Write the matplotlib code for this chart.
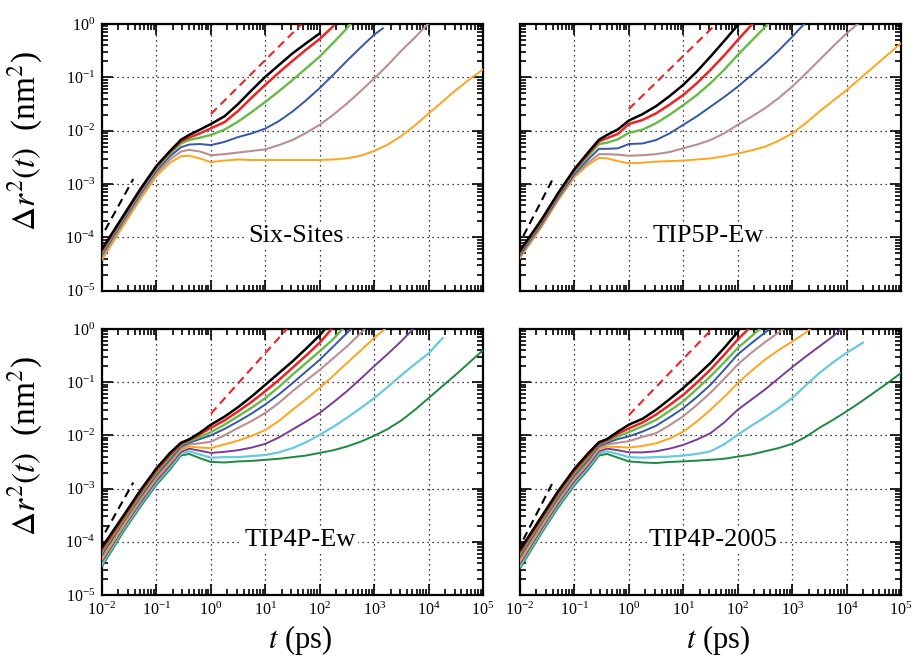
import numpy as np
import matplotlib.pyplot as plt
from matplotlib.ticker import LogLocator, NullFormatter

plt.rcParams['font.family'] = ['Liberation Serif', 'DejaVu Serif']
plt.rcParams['mathtext.fontset'] = 'stix'
plt.rcParams['axes.unicode_minus'] = False

nan = np.nan

log_t = [-2, -1.6, -1.3, -1, -0.75, -0.55, -0.4, -0.2, 0, 0.25, 0.5, 0.75, 1, 1.25, 1.5, 1.75,
         2, 2.25, 2.5, 2.75, 3, 3.25, 3.5, 3.75, 4, 4.25, 4.5, 4.75, 5]

colors = ['#000000', '#ee2222', '#66bb44', '#3355aa', '#bb8f8f', '#ffa41c',
          '#7a3d96', '#66cadb', '#1b8a3e']

# log10 of MSD (nm^2) at log_t, one row per curve (colour order above);
# a row stops where the curve stops
six_sites = [
    [-4.22, -3.58, -3.10, -2.66, -2.38, -2.17, -2.08, -1.98, -1.875, -1.73, -1.50, -1.24, -0.99, -0.77, -0.55, -0.36, -0.175],
    [-4.25, -3.60, -3.12, -2.68, -2.40, -2.20, -2.13, -2.05, -1.956, -1.84, -1.63, -1.38, -1.14, -0.91, -0.69, -0.48, -0.28],
    [-4.28, -3.63, -3.15, -2.71, -2.43, -2.24, -2.175, -2.13, -2.08, -1.98, -1.83, -1.65, -1.46, -1.26, -1.05, -0.83, -0.61, -0.35, -0.08],
    [-4.32, -3.67, -3.19, -2.75, -2.48, -2.31, -2.26, -2.25, -2.27, -2.21, -2.12, -2.05, -1.96, -1.82, -1.64, -1.43, -1.20, -0.95, -0.69, -0.44, -0.20],
    [-4.37, -3.72, -3.24, -2.80, -2.54, -2.39, -2.36, -2.39, -2.46, -2.44, -2.41, -2.38, -2.35, -2.27, -2.175, -2.04, -1.89, -1.70, -1.49, -1.26, -1.02, -0.77, -0.50, -0.25],
    [-4.42, -3.77, -3.29, -2.85, -2.60, -2.48, -2.47, -2.52, -2.59, -2.56, -2.54, -2.55, -2.55, -2.55, -2.55, -2.55, -2.55, -2.54, -2.52, -2.47, -2.38, -2.26, -2.10, -1.90, -1.68, -1.46, -1.24, -1.04, -0.85],
]
# last point of each curve (log t, log msd)
six_sites_end = [(2.0, -0.175), (2.25, -0.04), (2.56, 0.0), (3.16, -0.08), (3.99, 0.0), (5.0, -0.85)]

tip5p_ew = [
    [-4.25, -3.66, -3.17, -2.72, -2.41, -2.17, -2.08, -1.975, -1.81, -1.69, -1.54, -1.35, -1.14, -0.89, -0.61, -0.32, -0.02],
    [-4.27, -3.68, -3.19, -2.74, -2.44, -2.20, -2.14, -2.06, -1.875, -1.80, -1.675, -1.51, -1.33, -1.11, -0.86, -0.59, -0.30, -0.02],
    [-4.29, -3.70, -3.21, -2.77, -2.48, -2.25, -2.225, -2.16, -2.04, -1.98, -1.86, -1.70, -1.52, -1.33, -1.11, -0.86, -0.58, -0.32, -0.06],
    [-4.33, -3.74, -3.25, -2.81, -2.54, -2.34, -2.34, -2.33, -2.25, -2.24, -2.175, -2.05, -1.89, -1.73, -1.55, -1.37, -1.175, -0.96, -0.74, -0.50, -0.24],
    [-4.36, -3.77, -3.28, -2.84, -2.60, -2.44, -2.44, -2.45, -2.47, -2.46, -2.44, -2.40, -2.33, -2.26, -2.175, -2.05, -1.89, -1.74, -1.58, -1.39, -1.175, -0.93, -0.675, -0.42, -0.175],
    [-4.39, -3.80, -3.31, -2.87, -2.64, -2.51, -2.52, -2.57, -2.61, -2.60, -2.58, -2.57, -2.56, -2.54, -2.52, -2.48, -2.43, -2.37, -2.30, -2.19, -2.05, -1.86, -1.64, -1.44, -1.24, -1.02, -0.80, -0.58, -0.36],
]
tip5p_ew_end = [(2.02, 0.0), (2.27, 0.0), (2.56, 0.0), (3.22, 0.0), (4.2, 0.0), (5.0, -0.36)]

tip4p_ew = [
    [-4.10, -3.50, -3.04, -2.62, -2.33, -2.14, -2.075, -1.95, -1.80, -1.65, -1.47, -1.27, -1.05, -0.83, -0.61, -0.37, -0.12],
    [-4.15, -3.54, -3.08, -2.66, -2.37, -2.16, -2.09, -1.98, -1.86, -1.72, -1.55, -1.37, -1.17, -0.96, -0.73, -0.50, -0.26],
    [-4.19, -3.58, -3.12, -2.70, -2.41, -2.18, -2.11, -2.03, -1.94, -1.80, -1.64, -1.48, -1.30, -1.09, -0.86, -0.64, -0.42, -0.19],
    [-4.24, -3.61, -3.16, -2.74, -2.45, -2.21, -2.14, -2.07, -2.00, -1.88, -1.74, -1.59, -1.42, -1.23, -1.02, -0.80, -0.58, -0.33, -0.075],
    [-4.28, -3.65, -3.20, -2.78, -2.49, -2.24, -2.17, -2.15, -2.12, -2.00, -1.86, -1.73, -1.58, -1.39, -1.17, -0.97, -0.77, -0.55, -0.33, -0.08],
    [-4.33, -3.69, -3.23, -2.81, -2.52, -2.27, -2.21, -2.23, -2.24, -2.17, -2.10, -2.01, -1.90, -1.73, -1.52, -1.32, -1.11, -0.88, -0.64, -0.41, -0.17],
    [-4.37, -3.72, -3.27, -2.85, -2.56, -2.31, -2.25, -2.29, -2.33, -2.31, -2.28, -2.23, -2.16, -2.04, -1.89, -1.74, -1.58, -1.38, -1.17, -0.94, -0.70, -0.47, -0.23],
    [-4.42, -3.76, -3.31, -2.89, -2.60, -2.35, -2.30, -2.36, -2.42, -2.41, -2.41, -2.39, -2.37, -2.32, -2.24, -2.13, -1.99, -1.84, -1.67, -1.49, -1.30, -1.09, -0.87, -0.66, -0.46],
    [-4.46, -3.80, -3.35, -2.93, -2.64, -2.38, -2.35, -2.43, -2.50, -2.51, -2.49, -2.48, -2.46, -2.44, -2.41, -2.38, -2.33, -2.28, -2.21, -2.12, -2.01, -1.88, -1.72, -1.52, -1.30, -1.08, -0.86, -0.63, -0.40],
]
tip4p_ew_end = [(2.1, 0.0), (2.22, 0.0), (2.42, 0.0), (2.58, 0.0), (2.83, 0.0), (3.2, 0.0),
                (3.72, 0.0), (4.26, -0.17), (5.0, -0.40)]

tip4p_2005 = [
    [-4.15, -3.52, -3.05, -2.63, -2.34, -2.13, -2.07, -1.93, -1.80, -1.69, -1.52, -1.32, -1.11, -0.88, -0.64, -0.36, -0.06],
    [-4.19, -3.56, -3.09, -2.67, -2.38, -2.15, -2.09, -1.97, -1.87, -1.76, -1.61, -1.43, -1.24, -1.01, -0.765, -0.49, -0.20],
    [-4.23, -3.60, -3.13, -2.71, -2.42, -2.17, -2.11, -2.02, -1.94, -1.83, -1.71, -1.54, -1.36, -1.13, -0.89, -0.63, -0.36, -0.14],
    [-4.28, -3.63, -3.17, -2.75, -2.46, -2.20, -2.14, -2.07, -2.02, -1.93, -1.82, -1.66, -1.49, -1.28, -1.05, -0.77, -0.48, -0.27, -0.07],
    [-4.32, -3.67, -3.21, -2.79, -2.50, -2.23, -2.17, -2.14, -2.11, -2.03, -1.96, -1.81, -1.64, -1.43, -1.20, -0.94, -0.67, -0.45, -0.25, -0.07],
    [-4.37, -3.71, -3.24, -2.82, -2.53, -2.26, -2.21, -2.22, -2.23, -2.20, -2.15, -2.06, -1.93, -1.74, -1.52, -1.28, -1.02, -0.79, -0.58, -0.40, -0.24, -0.07],
    [-4.41, -3.75, -3.28, -2.86, -2.57, -2.30, -2.25, -2.28, -2.32, -2.32, -2.30, -2.25, -2.18, -2.08, -1.96, -1.76, -1.52, -1.33, -1.14, -0.93, -0.72, -0.52, -0.33, -0.14],
    [-4.46, -3.79, -3.32, -2.90, -2.61, -2.34, -2.30, -2.35, -2.41, -2.42, -2.41, -2.40, -2.38, -2.35, -2.30, -2.17, -1.99, -1.82, -1.66, -1.49, -1.30, -1.06, -0.83, -0.63, -0.45],
    [-4.50, -3.83, -3.36, -2.94, -2.65, -2.38, -2.35, -2.42, -2.49, -2.51, -2.52, -2.50, -2.49, -2.475, -2.46, -2.44, -2.40, -2.36, -2.30, -2.24, -2.16, -2.03, -1.86, -1.71, -1.55, -1.38, -1.20, -1.02, -0.83],
]
tip4p_2005_end = [(2.03, 0.0), (2.2, 0.0), (2.41, 0.0), (2.6, 0.0), (2.84, 0.0), (3.33, 0.0),
                  (3.91, 0.0), (4.3, -0.26), (5.0, -0.83)]

# guide lines: ballistic (black) and diffusive (red), (t0, t1, msd0, msd1)
ballistic = [(0.0114, 0.0375, 1.37e-4, 1.24e-3), (0.0115, 0.04, 1.06e-4, 1.24e-3),
             (0.0114, 0.0375, 1.5e-4, 1.3e-3), (0.0115, 0.04, 1.1e-4, 1.3e-3)]
diffusive = [(1, 45, 0.0205, 0.97), (1, 40, 0.0255, 1.0),
             (1, 25, 0.0255, 1.0), (1, 34, 0.024, 1.0)]

names = ['Six-Sites', 'TIP5P-Ew', 'TIP4P-Ew', 'TIP4P-2005']
curves = [six_sites, tip5p_ew, tip4p_ew, tip4p_2005]
ends = [six_sites_end, tip5p_ew_end, tip4p_ew_end, tip4p_2005_end]

widths = [1.8, 1.8, 1.7, 1.4, 1.5, 1.4, 1.4, 1.6, 1.4]

fig = plt.figure(figsize=(9.15, 6.62), dpi=100)
boxes = [[0.1115, 0.5609, 0.4164, 0.4028], [0.5683, 0.5609, 0.4164, 0.4028],
         [0.1115, 0.1012, 0.4164, 0.4020], [0.5683, 0.1012, 0.4164, 0.4020]]
label_x = [0.508, 0.493, 0.52, 0.507]

for k in range(4):
    ax = fig.add_axes(boxes[k])
    ax.set_xscale('log')
    ax.set_yscale('log')
    for i, row in enumerate(curves[k]):
        lt = log_t[:len(row)] + [ends[k][i][0]]
        lm = row + [ends[k][i][1]]
        ax.plot(10 ** np.array(lt), 10 ** np.array(lm), color=colors[i], lw=widths[i],
                solid_joinstyle='round', zorder=3 + (9 - i) * 0.01)
    b = ballistic[k]
    ax.plot([b[0], b[1]], [b[2], b[3]], color='black', lw=1.5, ls=(0, (4, 2.5)), zorder=4)
    d = diffusive[k]
    ax.plot([d[0], d[1]], [d[2], d[3]], color='#ee2222', lw=1.5, ls=(0, (4, 2.5)), zorder=4)

    ax.set_xlim(1e-2, 1e5)
    ax.set_ylim(1e-5, 1)
    ax.xaxis.set_major_locator(LogLocator(base=10, numticks=20))
    ax.yaxis.set_major_locator(LogLocator(base=10, numticks=20))
    ax.xaxis.set_minor_locator(LogLocator(base=10, subs=np.arange(2, 10), numticks=20))
    ax.yaxis.set_minor_locator(LogLocator(base=10, subs=np.arange(2, 10), numticks=20))
    ax.xaxis.set_minor_formatter(NullFormatter())
    ax.yaxis.set_minor_formatter(NullFormatter())
    ax.grid(True, which='major', color='black', ls=(0, (1, 3)), lw=0.9)
    ax.tick_params(which='both', direction='in', top=True, right=True, width=1.2,
                   labelsize=11.5)
    ax.tick_params(which='major', length=8)
    ax.tick_params(which='minor', length=4.5)
    ax.tick_params(axis='x', pad=5)
    ax.tick_params(axis='y', pad=5)
    for s in ax.spines.values():
        s.set_linewidth(1.6)

    if k < 2:
        ax.tick_params(labelbottom=False)
    else:
        ax.set_xlabel(r'$t$ (ps)', fontsize=22)
        ax.xaxis.set_label_coords(0.52, -0.105)
    if k % 2 == 1:
        ax.tick_params(labelleft=False)
    else:
        ax.set_ylabel(r'$\Delta r^{2}(t)$  (nm$^{2}$)', fontsize=24)
        ax.yaxis.set_label_coords(-0.15, 0.56)

    ax.text(label_x[k], 0.205, names[k], transform=ax.transAxes, fontsize=19,
            ha='center', va='center', zorder=5,
            bbox=dict(facecolor='white', edgecolor='none', pad=1.5))

fig.savefig('out.png', dpi=100)
